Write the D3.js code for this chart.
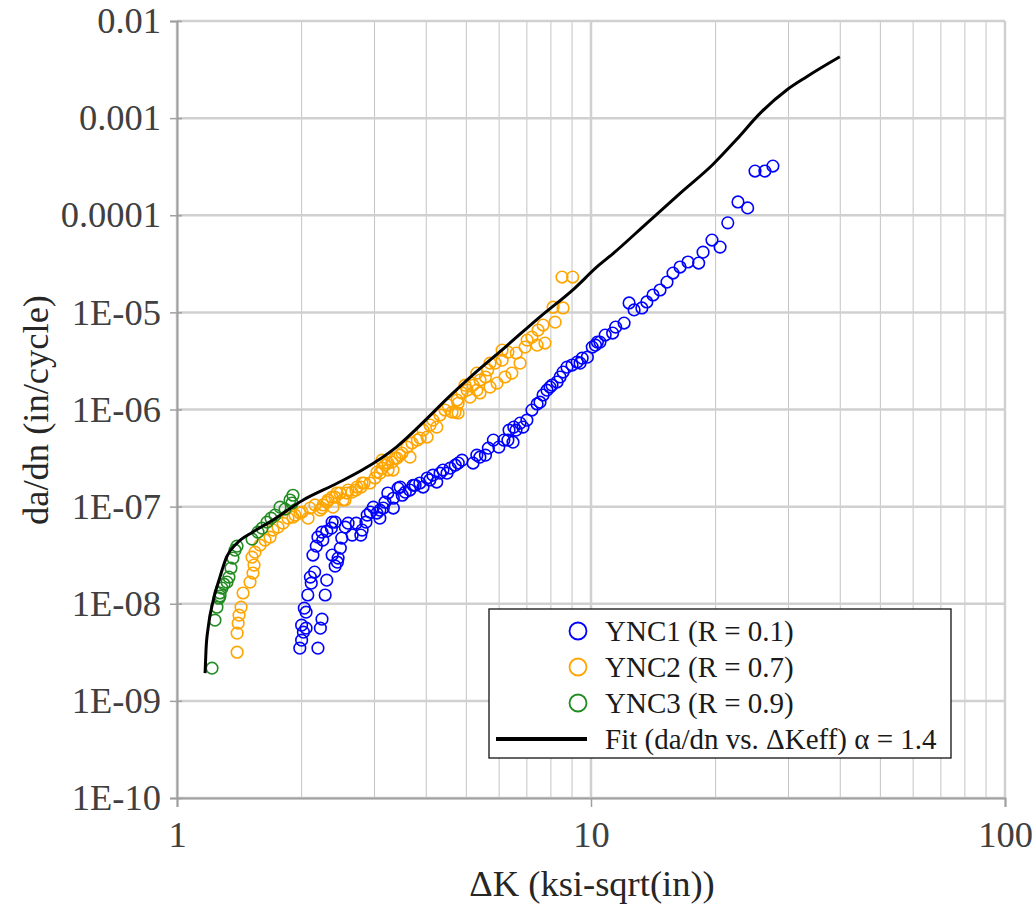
<!DOCTYPE html>
<html>
<head>
<meta charset="utf-8">
<script src="https://cdn.jsdelivr.net/npm/d3@7"></script>
<style>
  body { margin: 0; background: #ffffff; }
  svg { display: block; }
  text { font-family: "Liberation Serif", "Times New Roman", Times, serif; }
</style>
</head>
<body>
<svg id="chart" width="1036" height="907"></svg>
<script>
// ΔK (ksi·√in) and da/dn (in/cycle) pairs for each specimen
const ync1 = [
  [1.98,3.49e-9],[2.00,4.22e-9],[2.02,5.10e-9],[2.05,5.61e-9],[2.00,6.02e-9],[2.05,8.19e-9],[2.03,9.01e-9],
  [2.07,1.23e-8],[2.11,1.63e-8],[2.10,1.88e-8],[2.15,2.12e-8],[2.19,3.49e-9],[2.22,5.61e-9],[2.24,6.94e-9],
  [2.28,1.23e-8],[2.30,1.75e-8],[2.13,3.17e-8],[2.17,3.92e-8],[2.19,4.85e-8],[2.24,5.46e-8],[2.25,4.52e-8],
  [2.30,5.59e-8],[2.36,6.0e-8],[2.37,6.92e-8],[2.41,6.92e-8],[2.37,3.17e-8],[2.44,2.68e-8],[2.41,2.44e-8],
  [2.45,2.95e-8],[2.48,3.74e-8],[2.50,4.74e-8],[2.55,6.15e-8],[2.59,6.76e-8],[2.65,5.09e-8],[2.71,6.76e-8],
  [2.78,5.09e-8],[2.80,5.73e-8],[2.86,6.92e-8],[2.88,8.18e-8],[2.93,8.78e-8],[2.98,9.88e-8],[3.04,8.58e-8],
  [3.09,7.61e-8],[3.09,9.2e-8],[3.15,9.66e-8],[3.18,1.11e-7],[3.23,1.38e-7],[3.33,9.66e-8],[3.33,1.22e-7],
  [3.42,1.55e-7],[3.46,1.59e-7],[3.50,1.31e-7],[3.56,1.41e-7],[3.65,1.48e-7],[3.72,1.66e-7],[3.76,1.66e-7],
  [3.86,1.75e-7],[3.93,1.59e-7],[4.02,1.97e-7],[4.08,1.88e-7],[4.15,2.11e-7],[4.24,1.79e-7],[4.32,2.21e-7],
  [4.39,2.38e-7],[4.49,2.21e-7],[4.57,2.49e-7],[4.70,2.67e-7],[4.78,2.81e-7],[4.88,3.01e-7],[5.19,2.81e-7],
  [5.30,3.39e-7],[5.39,3.23e-7],[5.56,3.39e-7],[5.65,4.0e-7],[5.81,4.84e-7],[5.99,4.10e-7],[6.16,4.84e-7],
  [6.30,4.84e-7],[6.34,6.13e-7],[6.48,4.61e-7],[6.51,6.59e-7],[6.59,6.13e-7],[6.74,7.24e-7],[6.85,6.59e-7],
  [7.00,7.77e-7],[7.20,9.87e-7],[7.41,1.14e-6],[7.53,1.19e-6],[7.66,1.41e-6],[7.83,1.58e-6],[7.96,1.70e-6],
  [8.05,1.78e-6],[8.28,1.92e-6],[8.42,2.16e-6],[8.56,2.43e-6],[8.75,2.73e-6],[9.00,2.87e-6],[9.26,3.08e-6],
  [9.41,3.0e-6],[9.52,3.38e-6],[9.80,3.46e-6],[10.07,4.39e-6],[10.25,4.6e-6],[10.36,4.94e-6],[10.51,4.94e-6],
  [10.82,5.84e-6],[11.28,6.12e-6],[11.47,7.05e-6],[12.02,7.76e-6],[12.36,1.25e-5],[12.71,1.06e-5],[13.27,1.11e-5],
  [13.64,1.28e-5],[14.12,1.51e-5],[14.68,1.70e-5],[15.26,2.05e-5],[15.78,2.54e-5],[16.41,2.93e-5],[17.15,3.30e-5],
  [18.2,3.22e-5],[18.65,4.17e-5],[19.6,5.55e-5],[20.5,4.7e-5],[21.4,8.35e-5],[22.65,1.37e-4],[23.9,1.19e-4],
  [24.9,2.85e-4],[26.3,2.85e-4],[27.5,3.21e-4]
];

const ync2 = [
  [1.397,3.17e-9],[1.397,4.98e-9],[1.405,6.31e-9],[1.412,7.63e-9],[1.428,9.23e-9],[1.444,1.29e-8],[1.501,1.67e-8],
  [1.526,2.07e-8],[1.535,2.50e-8],[1.518,3.02e-8],[1.543,3.40e-8],[1.587,4.01e-8],[1.632,4.52e-8],[1.678,4.85e-8],
  [1.706,5.73e-8],[1.754,6.15e-8],[1.804,6.76e-8],[1.854,7.61e-8],[1.907,7.79e-8],[1.928,8.18e-8],[1.982,8.58e-8],
  [2.004,8.78e-8],[2.073,7.61e-8],[2.096,9.66e-8],[2.154,1.04e-7],[2.215,9.2e-8],[2.240,9.66e-8],[2.253,1.04e-7],
  [2.303,1.11e-7],[2.316,1.17e-7],[2.368,1.25e-7],[2.381,9.88e-8],[2.408,1.25e-7],[2.435,1.38e-7],[2.476,1.38e-7],
  [2.518,1.17e-7],[2.546,1.17e-7],[2.574,1.38e-7],[2.588,1.48e-7],[2.646,1.41e-7],[2.705,1.48e-7],[2.720,1.59e-7],
  [2.783,1.59e-7],[2.799,1.75e-7],[2.830,1.75e-7],[2.925,1.75e-7],[3.008,1.97e-7],[3.042,2.27e-7],[3.093,2.21e-7],
  [3.128,2.49e-7],[3.128,3.01e-7],[3.180,2.67e-7],[3.234,2.38e-7],[3.234,2.81e-7],[3.306,2.87e-7],[3.325,2.38e-7],
  [3.362,3.16e-7],[3.400,3.16e-7],[3.457,3.39e-7],[3.496,3.56e-7],[3.596,4.10e-7],[3.654,3.23e-7],[3.696,4.51e-7],
  [3.806,4.84e-7],[3.864,5.08e-7],[3.930,6.13e-7],[4.018,5.2e-7],[4.084,6.91e-7],[4.152,7.77e-7],[4.242,6.59e-7],
  [4.318,8.77e-7],[4.441,9.87e-7],[4.516,1.11e-6],[4.617,9.4e-7],[4.695,9.4e-7],[4.748,1.25e-6],[4.775,9.2e-7],
  [4.775,1.16e-6],[4.88,1.48e-6],[4.962,1.78e-6],[5.02,1.58e-6],[5.102,1.34e-6],[5.19,1.78e-6],[5.30,2.37e-6],
  [5.30,1.58e-6],[5.394,2.01e-6],[5.394,1.48e-6],[5.56,2.16e-6],[5.63,2.55e-6],[5.702,1.70e-6],[5.702,3.0e-6],
  [5.87,3.0e-6],[5.93,1.87e-6],[6.10,3.22e-6],[6.10,4.09e-6],[6.20,2.16e-6],[6.30,3.9e-6],[6.44,2.37e-6],
  [6.60,3.81e-6],[6.74,3.0e-6],[6.93,4.39e-6],[7.01,5.18e-6],[7.20,5.57e-6],[7.41,4.6e-6],[7.45,6.57e-6],
  [7.66,7.4e-6],[7.74,4.83e-6],[8.10,1.13e-5],[8.19,7.93e-6],[8.56,1.11e-5],[8.51,2.31e-5],[9.03,2.31e-5]
];

const ync3 = [
  [1.215,2.17e-9],[1.235,6.78e-9],[1.249,9.2e-9],[1.263,1.14e-8],[1.270,1.29e-8],[1.270,1.20e-8],[1.284,1.45e-8],
  [1.299,1.59e-8],[1.321,1.67e-8],[1.335,1.88e-8],[1.350,2.33e-8],[1.365,2.95e-8],[1.381,3.56e-8],[1.396,3.92e-8],
  [1.518,4.63e-8],[1.569,5.46e-8],[1.605,6.0e-8],[1.650,6.92e-8],[1.687,7.61e-8],[1.725,8.18e-8],[1.774,9.88e-8],
  [1.824,9.43e-8],[1.875,1.17e-7],[1.906,1.31e-7],[1.896,1.09e-7]
];

// Effective-ΔK fit curve
const fitCurve = [
  [1.169,1.93e-9],[1.175,3.33e-9],[1.190,5.78e-9],[1.224,1.09e-8],[1.270,1.89e-8],[1.318,3.04e-8],[1.394,4.18e-8],
  [1.529,5.51e-8],[1.678,6.97e-8],[2.018,1.17e-7],[2.431,1.73e-7],[2.80,2.38e-7],[3.394,4.13e-7],[3.936,7.4e-7],
  [4.48,1.28e-6],[5.2,2.3e-6],[6.25,4.5e-6],[7.53,9.0e-6],[9.1,1.75e-5],[10.35,2.95e-5],[11.32,4.05e-5],
  [13.63,8.26e-5],[16.41,1.68e-4],[19.75,3.37e-4],[22.4,5.94e-4],[25.6,1.12e-3],[29.7,1.95e-3],[33.2,2.67e-3],
  [39.9,4.28e-3]
];

const xTicks = [1, 10, 100];
const xTickLabels = ["1", "10", "100"];
const yTicks = [1e-2, 1e-3, 1e-4, 1e-5, 1e-6, 1e-7, 1e-8, 1e-9, 1e-10];
const yTickLabels = ["0.01", "0.001", "0.0001", "1E-05", "1E-06", "1E-07", "1E-08", "1E-09", "1E-10"];

const series = [
  { name: "YNC1 (R = 0.1)", color: "#0000ff", data: ync1 },
  { name: "YNC2 (R = 0.7)", color: "#ffa500", data: ync2 },
  { name: "YNC3 (R = 0.9)", color: "#228b22", data: ync3 }
];
const fitLabel = "Fit (da/dn vs. \u0394Keff) \u03b1 = 1.4";

const plotLeft = 177, plotRight = 1005, plotTop = 21, plotBottom = 798;
const axisFont = 36.5, legendFont = 29;
const svg = d3.select("#chart");

const x = d3.scaleLog().domain([1, 100]).range([plotLeft, plotRight]);
const y = d3.scaleLog().domain([1e-10, 1e-2]).range([plotBottom, plotTop]);

// Grid: minor verticals, then decade lines in both directions
const minorX = [];
for (const dec of [1, 10]) for (let k = 2; k <= 9; k++) minorX.push(dec * k);

const grid = svg.append("g");
grid.selectAll("line.minor").data(minorX).join("line")
  .attr("class", "minor")
  .attr("x1", d => x(d)).attr("x2", d => x(d))
  .attr("y1", plotTop).attr("y2", plotBottom)
  .attr("stroke", "#c4c4c4").attr("stroke-width", 1);
grid.selectAll("line.hmaj").data(yTicks).join("line")
  .attr("class", "hmaj")
  .attr("x1", plotLeft).attr("x2", plotRight)
  .attr("y1", d => y(d)).attr("y2", d => y(d))
  .attr("stroke", "#d0d0d0").attr("stroke-width", 2.5);
grid.selectAll("line.vmaj").data(xTicks).join("line")
  .attr("class", "vmaj")
  .attr("x1", d => x(d)).attr("x2", d => x(d))
  .attr("y1", plotTop).attr("y2", plotBottom)
  .attr("stroke", "#d0d0d0").attr("stroke-width", 2.5);

// Axes
const yAxis = d3.axisLeft(y).tickValues(yTicks).tickFormat((d, i) => yTickLabels[i]).tickSize(7).tickPadding(9);
const gy = svg.append("g").attr("transform", `translate(${plotLeft},0)`).call(yAxis);
gy.select(".domain").attr("stroke", "#a0a0a0").attr("stroke-width", 2);
gy.selectAll(".tick line").attr("stroke", "#a0a0a0").attr("stroke-width", 1.5).attr("x1", 5);
gy.selectAll(".tick text").attr("font-size", axisFont).attr("fill", "#404040");

const xAxis = d3.axisBottom(x).tickValues(xTicks).tickFormat((d, i) => xTickLabels[i]).tickSize(9).tickPadding(14);
const gx = svg.append("g").attr("transform", `translate(0,${plotBottom})`).call(xAxis);
gx.select(".domain").attr("stroke", "#a0a0a0").attr("stroke-width", 2);
gx.selectAll(".tick line").attr("stroke", "#a0a0a0").attr("stroke-width", 1.5);
gx.selectAll(".tick text").attr("font-size", axisFont).attr("fill", "#404040");

// Axis titles
svg.append("text")
  .attr("transform", "translate(48,410) rotate(-90)")
  .attr("text-anchor", "middle")
  .attr("font-size", axisFont).attr("fill", "#262626")
  .text("da/dn (in/cycle)");
svg.append("text")
  .attr("x", 592).attr("y", 896)
  .attr("text-anchor", "middle")
  .attr("font-size", axisFont).attr("fill", "#262626")
  .text("\u0394K (ksi-sqrt(in))");

// Data points
series.forEach(s => {
  svg.append("g").selectAll("circle").data(s.data).join("circle")
    .attr("cx", d => x(d[0])).attr("cy", d => y(d[1])).attr("r", 5.8)
    .attr("fill", "none").attr("stroke", s.color).attr("stroke-width", 1.6);
});

// Fit curve
svg.append("path")
  .datum(fitCurve)
  .attr("d", d3.line().x(d => x(d[0])).y(d => y(d[1])).curve(d3.curveMonotoneX))
  .attr("fill", "none").attr("stroke", "#000").attr("stroke-width", 3);

// Legend
const lg = svg.append("g");
lg.append("rect").attr("x", 489).attr("y", 609).attr("width", 462).attr("height", 149)
  .attr("fill", "#fff").attr("stroke", "#111").attr("stroke-width", 1.3);
const rowY = [631, 667, 703, 739];
series.forEach((s, i) => {
  lg.append("circle").attr("cx", 578).attr("cy", rowY[i]).attr("r", 8.5)
    .attr("fill", "none").attr("stroke", s.color).attr("stroke-width", 1.8);
  lg.append("text").attr("x", 605).attr("y", rowY[i] + 10)
    .attr("font-size", legendFont).attr("fill", "#1a1a1a").text(s.name);
});
lg.append("line").attr("x1", 496).attr("x2", 587).attr("y1", rowY[3]).attr("y2", rowY[3])
  .attr("stroke", "#000").attr("stroke-width", 4);
lg.append("text").attr("x", 605).attr("y", rowY[3] + 10)
  .attr("font-size", legendFont).attr("fill", "#1a1a1a").text(fitLabel);
</script>
</body>
</html>
